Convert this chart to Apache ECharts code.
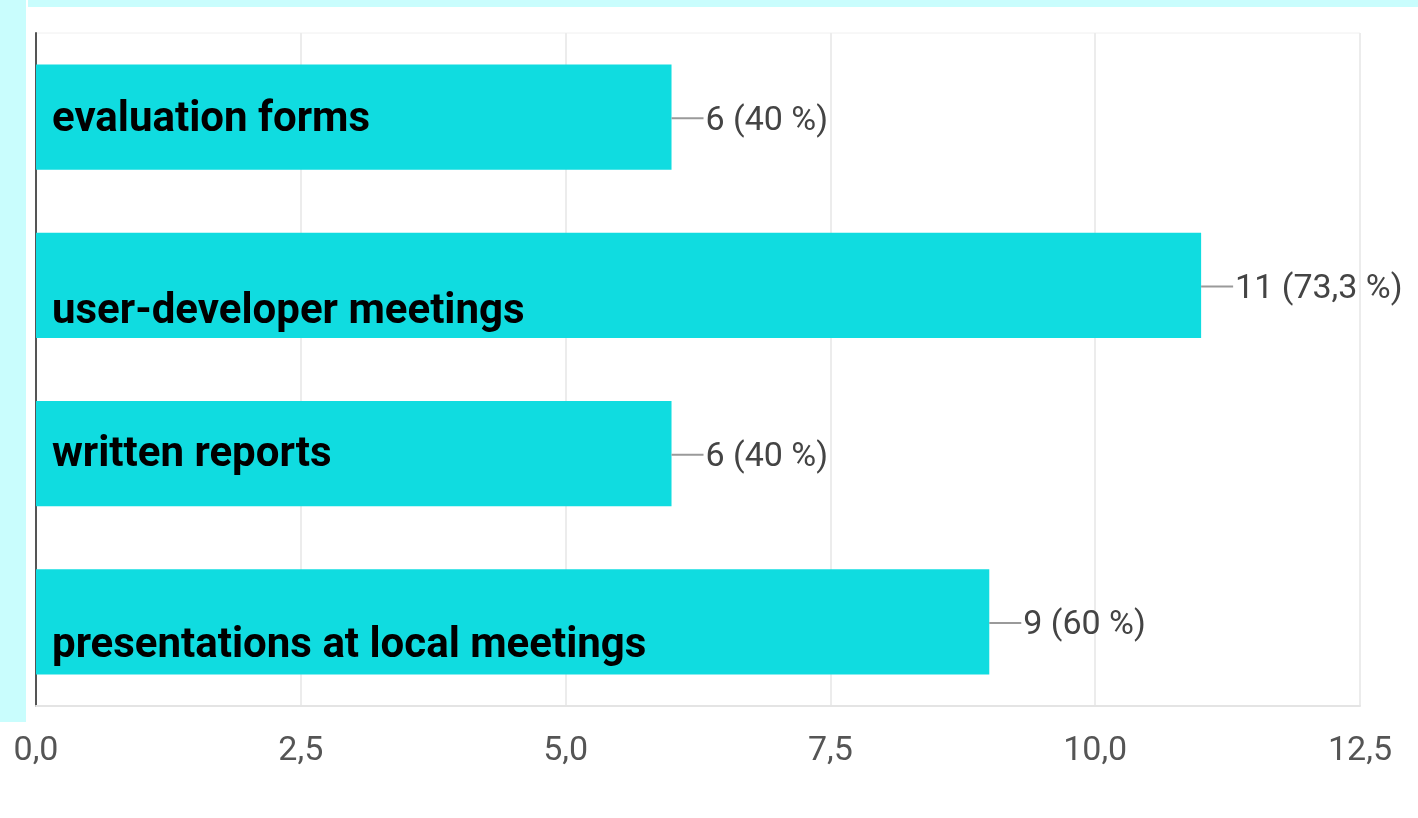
<!DOCTYPE html>
<html>
<head>
<meta charset="utf-8">
<title>Feedback channels</title>
<script src="https://cdn.jsdelivr.net/npm/echarts@6/dist/echarts.min.js"></script>
<style>
  html, body { margin: 0; padding: 0; background: #ffffff; }
  #chart { width: 1418px; height: 818px; }
</style>
</head>
<body>
<div id="chart"></div>
<script>
// Survey answers: how results are fed back
const categories = [
  'evaluation forms',
  'user-developer meetings',
  'written reports',
  'presentations at local meetings'
];
const counts = [6, 11, 6, 9];
const percentLabels = ['40', '73,3', '40', '60'];
const tickValues = [0, 2.5, 5, 7.5, 10, 12.5];
// vertical nudge of each category caption inside its bar
const captionShift = [3, 27, 2, 25];

const chart = echarts.init(document.getElementById('chart'));

const fmtTick = v => v.toFixed(1).replace('.', ',');

chart.setOption({
  animation: false,
  backgroundColor: '#ffffff',
  graphic: [
    { type: 'rect', left: 28, top: 0, shape: { width: 1390, height: 7 }, style: { fill: '#c9fdfd' }, z: 0 },
    { type: 'rect', left: 0, top: 0, shape: { width: 26, height: 722 }, style: { fill: '#c9fdfd' }, z: 0 }
  ],
  grid: {
    left: 36, right: 58, top: 33, bottom: 112,
    show: true, borderColor: '#f0f0f0', borderWidth: 1
  },
  xAxis: {
    type: 'value',
    min: tickValues[0],
    max: tickValues[tickValues.length - 1],
    interval: 2.5,
    axisLine: { show: true, lineStyle: { color: '#e4e4e4', width: 2 } },
    axisTick: { show: false },
    splitLine: { show: true, lineStyle: { color: '#ececec', width: 2 } },
    axisLabel: {
      margin: 28,
      color: '#555555',
      fontFamily: 'Roboto',
      fontSize: 34,
      formatter: fmtTick
    }
  },
  yAxis: {
    type: 'category',
    inverse: true,
    data: categories,
    axisLine: { show: true, lineStyle: { color: '#555555', width: 2 } },
    axisTick: { show: false },
    axisLabel: { show: false },
    splitLine: { show: false }
  },
  series: [
    {
      type: 'bar',
      barCategoryGap: '37.5%',
      itemStyle: { color: '#10dce0' },
      data: counts.map((v, i) => ({
        value: v,
        label: {
          show: true,
          position: 'insideLeft',
          distance: 16,
          offset: [0, captionShift[i]],
          formatter: categories[i],
          color: '#000000',
          fontFamily: 'Roboto',
          fontWeight: 'bold',
          fontSize: 42
        }
      })),
      z: 2
    },
    {
      // value annotation with a short leader line to the right of each bar
      type: 'custom',
      data: counts.map((v, i) => [v, i, percentLabels[i]]),
      encode: { x: 0, y: 1 },
      renderItem: function (params, api) {
        const p = api.coord([api.value(0), api.value(1)]);
        const idx = params.dataIndex;
        return {
          type: 'group',
          children: [
            {
              type: 'line',
              shape: { x1: p[0], y1: p[1] + 1, x2: p[0] + 32, y2: p[1] + 1 },
              style: { stroke: '#9a9a9a', lineWidth: 2 }
            },
            {
              type: 'text',
              x: p[0] + 34,
              y: p[1] + 4,
              style: {
                text: counts[idx] + ' (' + percentLabels[idx] + ' %)',
                fill: '#444444',
                font: '34px Roboto',
                verticalAlign: 'middle',
                align: 'left'
              }
            }
          ]
        };
      },
      z: 3
    }
  ]
});
</script>
</body>
</html>
